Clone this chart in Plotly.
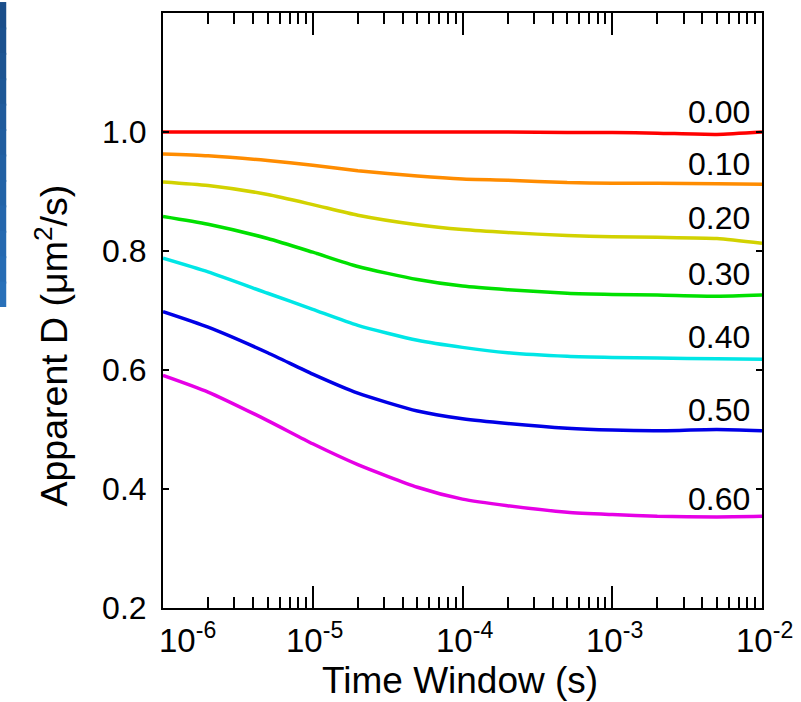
import plotly.graph_objects as go
import numpy as np

# ---- data ----
time_s = [1e-6, 2e-6, 5e-6, 1e-5, 2e-5, 5e-5, 1e-4, 2e-4, 5e-4, 1e-3, 2e-3, 5e-3, 1e-2]

d_000 = [1.000, 1.000, 1.000, 1.000, 1.000, 1.000, 1.000, 1.000, 0.999, 0.999, 0.998, 0.996, 1.000]
d_010 = [0.963, 0.960, 0.952, 0.944, 0.935, 0.926, 0.921, 0.919, 0.915, 0.914, 0.914, 0.913, 0.912]
d_020 = [0.916, 0.910, 0.895, 0.878, 0.860, 0.844, 0.836, 0.831, 0.826, 0.824, 0.823, 0.821, 0.813]
d_030 = [0.858, 0.845, 0.821, 0.798, 0.774, 0.752, 0.741, 0.735, 0.729, 0.727, 0.726, 0.724, 0.726]
d_040 = [0.788, 0.765, 0.729, 0.702, 0.675, 0.650, 0.638, 0.629, 0.623, 0.621, 0.620, 0.619, 0.618]
d_050 = [0.698, 0.672, 0.629, 0.593, 0.561, 0.531, 0.518, 0.510, 0.502, 0.499, 0.498, 0.500, 0.498]
d_060 = [0.591, 0.563, 0.515, 0.476, 0.441, 0.403, 0.383, 0.372, 0.361, 0.357, 0.354, 0.353, 0.354]

series = [d_000, d_010, d_020, d_030, d_040, d_050, d_060]
series_labels = ["0.00", "0.10", "0.20", "0.30", "0.40", "0.50", "0.60"]
label_y = [1.034, 0.947, 0.855, 0.762, 0.656, 0.533, 0.384]

x_tickvals = [1e-6, 1e-5, 1e-4, 1e-3, 1e-2]
x_ticktext = ["10<sup>-6</sup>", "10<sup>-5</sup>", "10<sup>-4</sup>", "10<sup>-3</sup>", "10<sup>-2</sup>"]
y_tickvals = [0.2, 0.4, 0.6, 0.8, 1.0]
y_ticktext = ["0.2", "0.4", "0.6", "0.8", "1.0"]

# ---- style ----
colors = ["#ff0000", "#ff8c00", "#d2d200", "#00e000", "#00e6e6", "#0000e6", "#e600e6"]
FONT = "Liberation Sans, Arial, sans-serif"

fig = go.Figure()
for vals, col, name in zip(series, colors, series_labels):
    fig.add_trace(go.Scatter(
        x=time_s, y=vals, mode="lines", name=name,
        line=dict(color=col, width=3.5, shape="spline", smoothing=0.6),
        showlegend=False,
    ))

# minor ticks on log axis
minor_vals = []
for dec in range(-6, -2):
    for m in range(2, 10):
        minor_vals.append(m * 10.0 ** dec)

fig.update_xaxes(
    type="log", range=[-6, -2],
    showline=True, linecolor="black", linewidth=2, mirror="allticks",
    ticks="inside", ticklen=22, tickwidth=2, tickcolor="black",
    tickvals=x_tickvals, showticklabels=False,
    minor=dict(tickmode="array", tickvals=minor_vals, ticks="inside",
               ticklen=11, tickwidth=2, tickcolor="black", showgrid=False),
    showgrid=False, zeroline=False,
)
fig.update_yaxes(
    range=[0.2, 1.2],
    showline=True, linecolor="black", linewidth=2, mirror="allticks",
    ticks="inside", ticklen=6, tickwidth=2, tickcolor="black",
    tickvals=y_tickvals, ticktext=y_ticktext,
    tickfont=dict(family=FONT, size=32, color="black"),
    ticklabelstandoff=8,
    showgrid=False, zeroline=False,
)

annotations = []
# x tick labels
for i, (tv, tt) in enumerate(zip(x_tickvals, x_ticktext)):
    annotations.append(dict(
        x=np.log10(tv), xref="x", y=0, yref="paper", yanchor="top", xanchor="center",
        text=tt, showarrow=False, yshift=-7, xshift=(24 if i == 0 else 2),
        font=dict(family=FONT, size=33, color="black"),
    ))
# curve labels
for txt, ly in zip(series_labels, label_y):
    annotations.append(dict(
        x=-2, xref="x", y=ly, yref="y", xanchor="right", yanchor="middle",
        text=txt, showarrow=False, xshift=-10,
        font=dict(family=FONT, size=32, color="black"),
    ))
# axis titles
annotations.append(dict(
    x=0.5, xref="paper", y=0, yref="paper", xanchor="center", yanchor="top",
    text="Time Window (s)", showarrow=False, yshift=-50, xshift=-3,
    font=dict(family=FONT, size=37, color="black"),
))
annotations.append(dict(
    x=0, xref="paper", y=0.5, yref="paper", xanchor="center", yanchor="middle",
    text="Apparent D (\u03bcm<sup>2</sup>/s)", showarrow=False, textangle=-90,
    xshift=-112, yshift=-35,
    font=dict(family=FONT, size=37.5, color="black"),
))

# decorative blue bar at the top-left edge
shapes = []
n = 12
top_rgb = np.array([26, 78, 138])
bot_rgb = np.array([40, 112, 185])
bar_h = 306.0
for k in range(n):
    c = top_rgb + (bot_rgb - top_rgb) * k / (n - 1)
    y_top = bar_h * k / n
    y_bot = min(bar_h, bar_h * (k + 1) / n + 2)
    shapes.append(dict(
        type="rect", xref="paper", yref="paper",
        x0=-163.5 / 598, x1=-156.5 / 598,
        y1=1 + (11 - y_top) / 597, y0=1 + (11 - y_bot) / 597,
        fillcolor="rgb(%d,%d,%d)" % tuple(c.astype(int)), line=dict(width=0), layer="above",
    ))

fig.update_layout(
    width=801, height=702,
    margin=dict(l=163, r=39, t=11, b=94),
    paper_bgcolor="white", plot_bgcolor="white",
    annotations=annotations, shapes=shapes,
    font=dict(family=FONT, color="black"),
)

fig.write_html("out.html")
